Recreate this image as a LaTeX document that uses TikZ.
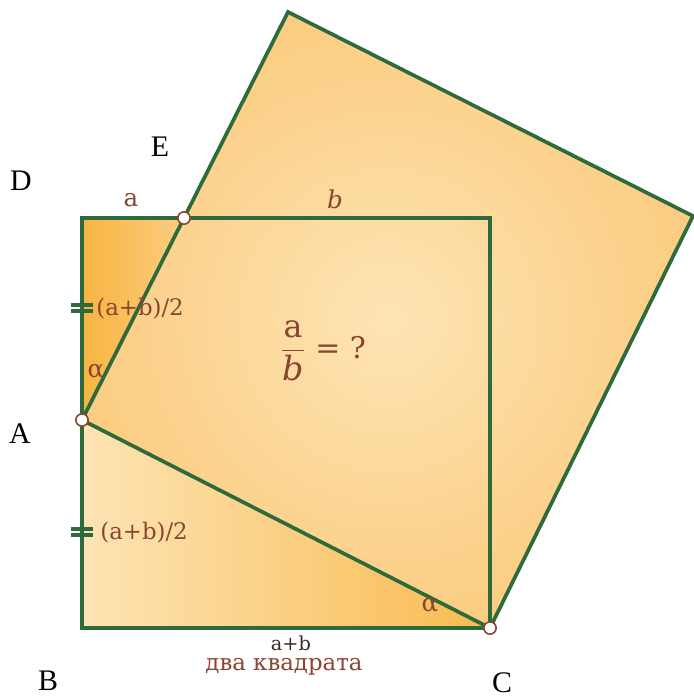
\documentclass[tikz,border=0pt]{standalone}
\usepackage{amsmath}
\usepackage{fontspec}
\setmainfont{Liberation Serif}
\newfontfamily\lblfont{DejaVu Serif}
\definecolor{edgegreen}{HTML}{2F6A3C}
\definecolor{lightfill}{HTML}{FDE4B4}
\definecolor{midfill}{HTML}{FBCD82}
\definecolor{darkfill}{HTML}{F8B440}
\definecolor{lblbrown}{HTML}{8A4530}
\definecolor{sumbrown}{HTML}{3B2B22}
\begin{document}
\begin{tikzpicture}[x=0.02cm, y=-0.02cm,
    edge_style/.style={draw=edgegreen, line width=2.1pt, line join=miter},
    tick_style/.style={draw=edgegreen, line width=2pt},
    pt_style/.style={circle, draw=lblbrown, fill=white, line width=0.9pt, minimum size=7pt, inner sep=0pt},
    name_style/.style={font=\fontsize{17}{20}\selectfont, text=black},
    lbl_style/.style={font=\lblfont\fontsize{14}{16}\selectfont, text=lblbrown},
    half_style/.style={font=\lblfont\fontsize{13}{15}\selectfont, text=lblbrown, anchor=west, inner sep=0pt}
]
\useasboundingbox (0,0) rectangle (694,698);

% points of the figure
\coordinate (sqD) at (82,218);
\coordinate (sqE) at (184,218);
\coordinate (sqQ) at (490,218);
\coordinate (sqA) at (82,420);
\coordinate (sqB) at (82,628);
\coordinate (sqC) at (490,628);
\coordinate (tT) at (288,12);
\coordinate (tR) at (693,216);

% fills
\shade[inner color=lightfill, outer color=midfill] (tT) -- (tR) -- (sqC) -- (sqA) -- cycle;
\shade[left color=darkfill, right color=midfill] (sqD) -- (sqE) -- (sqA) -- cycle;
\shade[left color=lightfill, right color=darkfill!85!lightfill] (sqA) -- (sqC) -- (sqB) -- cycle;

% edges
\draw[edge_style] (sqD) -- (sqQ) -- (sqC) -- (sqB) -- cycle;
\draw[edge_style] (sqA) -- (tT) -- (tR) -- (sqC) -- cycle;

% equal marks
\draw[tick_style] (71,305) -- (93,305) (71,311) -- (93,311);
\draw[tick_style] (71,529) -- (93,529) (71,535) -- (93,535);

\node[pt_style] (pE) at (sqE) {};
\node[pt_style] (pA) at (sqA) {};
\node[pt_style] (pC) at (sqC) {};

% point names
\node[name_style] (nD) at (21,181) {D};
\node[name_style] (nE) at (160,147) {E};
\node[name_style] (nA) at (20,434) {A};
\node[name_style] (nB) at (48,681) {B};
\node[name_style] (nC) at (502,683) {C};

% side labels
\node[lbl_style] (la) at (131,200) {a};
\node[lbl_style] (lb) at (335,199) {\itshape b};
\node[half_style] (h1) at (96,309) {(a+b)/2};
\node[half_style] (h2) at (100,533) {(a+b)/2};
\node[lbl_style] (al1) at (96,371) {α};
\node[lbl_style] (al2) at (430,605) {α};
\node[lbl_style, font=\lblfont\fontsize{17}{20}\selectfont] (ratio) at (323,351)
    {$\dfrac{\mbox{\lblfont\fontsize{18}{20}\selectfont a}}{\mbox{\lblfont\fontsize{19}{20}\selectfont\itshape b}}$ = ?};
\node[font=\lblfont\fontsize{11}{13}\selectfont, text=sumbrown, inner sep=0pt] (sum) at (291,643) {a+b};
\node[lbl_style, font=\lblfont\fontsize{13}{15}\selectfont, inner sep=0pt] (title) at (284,667) {два квадрата};
\end{tikzpicture}
\end{document}
